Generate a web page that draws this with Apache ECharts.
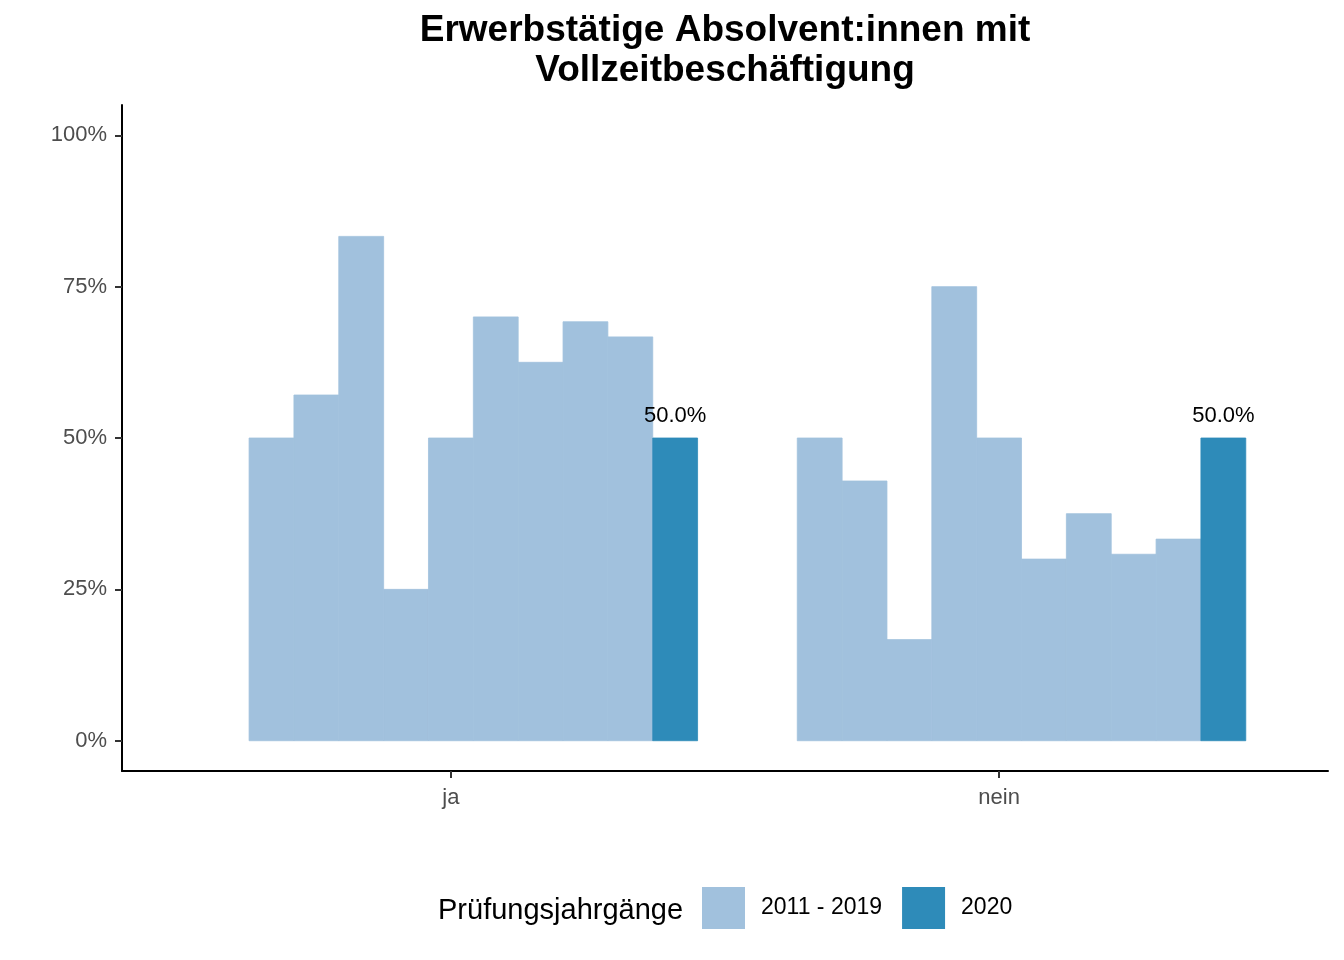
<!DOCTYPE html>
<html>
<head>
<meta charset="utf-8">
<script src="https://cdn.jsdelivr.net/npm/echarts@6/dist/echarts.min.js"></script>
<style>html,body{margin:0;padding:0;background:#fff}#c{width:1344px;height:960px}</style>
</head>
<body>
<div id="c"></div>
<script>
const categories = ['ja', 'nein'];
const seriesNames = ['2011 - 2019', '2020'];
// dodge slots per category: first slot empty, then 2011-2019 values
const prevValues = {
  ja:   [null, 50, 57.1, 83.3, 25, 50, 70, 62.5, 69.2, 66.7],
  nein: [null, 50, 42.9, 16.7, 75, 50, 30, 37.5, 30.8, 33.3]
};
const currValues = { ja: 50, nein: 50 };
const yTicks = [0, 25, 50, 75, 100];

const FONT = 'Liberation Sans, Arial, Helvetica, sans-serif';
const LIGHT = '#A1C1DD';
const DARK = '#2E8BB9';
const NSLOTS = 11;
const DODGE = 0.9;
const slotW = DODGE / NSLOTS;

const prevData = [];
categories.forEach((c, ci) => {
  prevValues[c].forEach((v, si) => {
    if (v !== null) prevData.push([ci + 1, v, si]);
  });
});
const currData = categories.map((c, ci) => [ci + 1, currValues[c], NSLOTS - 1]);

function makeRender(color, withLabel) {
  return function (params, api) {
    const cx = api.value(0) + (api.value(2) - (NSLOTS - 1) / 2) * slotW;
    const v = api.value(1);
    const p0 = api.coord([cx - slotW / 2, v]);
    const p1 = api.coord([cx + slotW / 2, 0]);
    const children = [{
      type: 'rect',
      shape: { x: p0[0], y: p0[1], width: p1[0] - p0[0], height: p1[1] - p0[1] },
      style: { fill: color, stroke: color, lineWidth: 0.8 }
    }];
    if (withLabel) {
      children.push({
        type: 'text',
        style: {
          text: v.toFixed(1) + '%',
          x: (p0[0] + p1[0]) / 2,
          y: p0[1] - 11,
          align: 'center',
          verticalAlign: 'bottom',
          font: '22px ' + FONT,
          fill: '#000'
        }
      });
    }
    return { type: 'group', children };
  };
}

const chart = echarts.init(document.getElementById('c'), null, { renderer: 'canvas' });
chart.setOption({
  animation: false,
  backgroundColor: '#fff',
  title: {
    text: 'Erwerbstätige Absolvent:innen mit\nVollzeitbeschäftigung',
    left: 725,
    top: 11,
    textAlign: 'center',
    padding: 0,
    textStyle: { fontFamily: FONT, fontSize: 37, fontWeight: 'bold', lineHeight: 40, color: '#000' }
  },
  graphic: [{
    type: 'text',
    left: 438,
    top: 896,
    style: { text: 'Prüfungsjahrgänge', font: '29px ' + FONT, fill: '#000' }
  }],
  legend: {
    left: 702,
    top: 887,
    itemWidth: 43,
    itemHeight: 42,
    itemGap: 20,
    padding: 0,
    icon: 'rect',
    data: seriesNames,
    textStyle: { fontFamily: FONT, fontSize: 23, color: '#000', padding: [7, 0, 0, 11] }
  },
  grid: { left: 122, right: 16, top: 105, bottom: 189, containLabel: false },
  xAxis: {
    type: 'value',
    min: 0.4,
    max: 2.6,
    splitLine: { show: false },
    axisLine: { show: true, onZero: false, lineStyle: { color: '#000', width: 2 } },
    axisTick: { show: true, customValues: [1, 2], length: 7, lineStyle: { color: '#333', width: 2 } },
    axisLabel: {
      customValues: [1, 2],
      formatter: v => categories[Math.round(v) - 1] || '',
      margin: 16,
      fontFamily: FONT, fontSize: 22, color: '#4D4D4D'
    }
  },
  yAxis: {
    type: 'value',
    min: -5,
    max: 105,
    splitLine: { show: false },
    axisLine: { show: true, onZero: false, lineStyle: { color: '#000', width: 2 } },
    axisTick: { show: true, customValues: yTicks, length: 7, lineStyle: { color: '#333', width: 2 } },
    axisLabel: {
      customValues: yTicks,
      formatter: v => v + '%',
      margin: 15,
      fontFamily: FONT, fontSize: 22, color: '#4D4D4D'
    }
  },
  series: [
    {
      name: seriesNames[0],
      type: 'custom',
      itemStyle: { color: LIGHT },
      renderItem: makeRender(LIGHT, false),
      encode: { x: 0, y: 1 },
      data: prevData
    },
    {
      name: seriesNames[1],
      type: 'custom',
      itemStyle: { color: DARK },
      renderItem: makeRender(DARK, true),
      encode: { x: 0, y: 1 },
      data: currData
    }
  ]
});
</script>
</body>
</html>
